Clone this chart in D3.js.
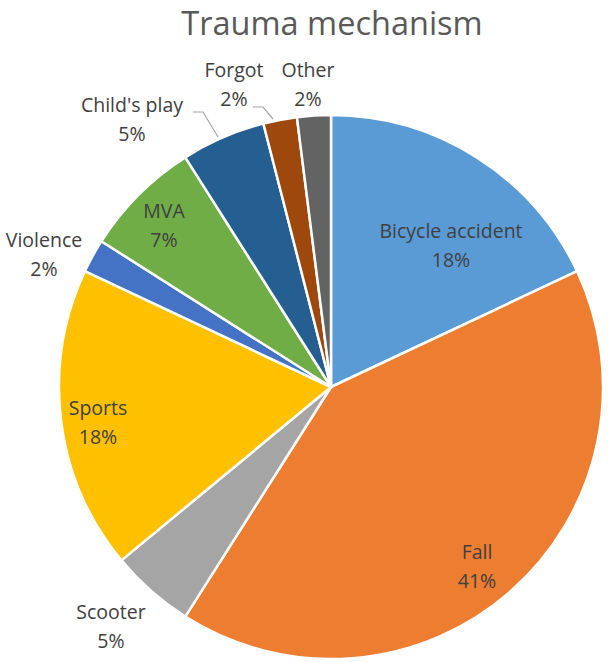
<!DOCTYPE html>
<html>
<head>
<meta charset="utf-8">
<script src="https://cdn.jsdelivr.net/npm/d3@7"></script>
<style>
  html, body { margin: 0; padding: 0; background: #fff; }
  svg { display: block; }
  text { font-family: "Open Sans", "Noto Sans", sans-serif; }
</style>
</head>
<body>
<svg id="chart" width="608" height="662"></svg>
<script>
// ---- data ----
const categories = ["Bicycle accident", "Fall", "Scooter", "Sports", "Violence", "MVA", "Child's play", "Forgot", "Other"];
const values = [18, 41, 5, 18, 2, 7, 5, 2, 2];
const percentLabels = ["18%", "41%", "5%", "18%", "2%", "7%", "5%", "2%", "2%"];
const colors = ["#5B9BD5", "#ED7D31", "#A5A5A5", "#FFC000", "#4472C4", "#70AD47", "#255E91", "#9E480E", "#636363"];
const title = "Trauma mechanism";

// ---- layout ----
const W = 608, H = 662;
const cx = 331, cy = 387, R = 272;
// label anchor positions (x, baseline of first line)
const labelPos = [
  [451, 238], [477, 559], [111, 619], [98, 415], [44, 247],
  [164, 218], [132, 112], [234, 77], [308, 77]
];
const lineGap = 29;
const leaders = {
  6: [[193, 112], [203, 112], [218, 137]],
  7: [[253, 107], [263, 107], [273, 119]]
};

const svg = d3.select("#chart");

svg.append("text")
  .attr("x", 332).attr("y", 35)
  .attr("text-anchor", "middle")
  .attr("font-size", 32.5)
  .attr("fill", "#595959")
  .text(title);

const pie = d3.pie().sort(null).value(d => d)(values);
const arc = d3.arc().innerRadius(0).outerRadius(R);

const g = svg.append("g").attr("transform", `translate(${cx},${cy})`);
g.selectAll("path").data(pie).join("path")
  .attr("d", arc)
  .attr("fill", (d, i) => colors[i])
  .attr("stroke", "#fff")
  .attr("stroke-width", 2.5)
  .attr("stroke-linejoin", "round");

const line = d3.line();
Object.entries(leaders).forEach(([i, pts]) => {
  svg.append("path")
    .attr("d", line(pts))
    .attr("fill", "none")
    .attr("stroke", "#A6A6A6")
    .attr("stroke-width", 1.2);
});

const labels = svg.append("g");
categories.forEach((c, i) => {
  const [x, y] = labelPos[i];
  const t = labels.append("text")
    .attr("x", x).attr("y", y)
    .attr("text-anchor", "middle")
    .attr("font-size", 19.5)
    .attr("fill", "#404040");
  t.append("tspan").attr("x", x).attr("dy", 0).text(c);
  t.append("tspan").attr("x", x).attr("dy", lineGap).text(percentLabels[i]);
});
</script>
</body>
</html>
